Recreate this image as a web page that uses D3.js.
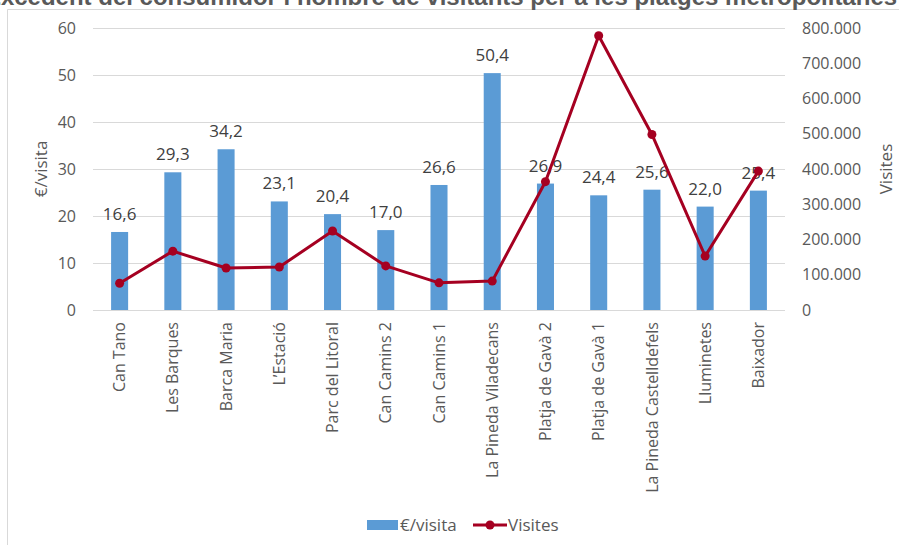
<!DOCTYPE html>
<html lang="ca">
<head>
    <meta charset="UTF-8">
    <title>Excedent del consumidor i nombre de visitants</title>
    <script src="https://cdnjs.cloudflare.com/ajax/libs/d3/7.8.5/d3.min.js"></script>
    <style>
        body { margin: 0; background: #fff; }
        svg { display: block; font-family: 'Open Sans', 'Liberation Sans', sans-serif; }
        svg .tick text { fill: #595959; font-size: 16px; font-family: 'Open Sans', sans-serif; }
        .label { fill: #404040; font-size: 17px; }
        .axis-title { fill: #595959; font-size: 17px; }
    </style>
</head>
<body>
    <div id="chart"></div>

    <script>
        // Data
        const categories = ["Can Tano", "Les Barques", "Barca Maria", "L\u2019Estació", "Parc del Litoral",
            "Can Camins 2", "Can Camins 1", "La Pineda Viladecans", "Platja de Gavà 2", "Platja de Gavà 1",
            "La Pineda Castelldefels", "Lluminetes", "Baixador"];
        const euroPerVisit = [16.6, 29.3, 34.2, 23.1, 20.4, 17.0, 26.6, 50.4, 26.9, 24.4, 25.6, 22.0, 25.4];
        const visits = [76000, 167000, 119000, 122000, 224000, 125000, 77000, 82000, 364000, 778000, 498000, 153000, 394000];
        const leftTicks = [0, 10, 20, 30, 40, 50, 60];
        const rightTicks = [0, 100000, 200000, 300000, 400000, 500000, 600000, 700000, 800000];

        const W = 899, H = 545;
        const plot = { left: 93, right: 785, top: 28, bottom: 310 };
        const barColor = "#5B9BD5";
        const lineColor = "#A50021";

        const svg = d3.select("#chart").append("svg")
            .attr("width", W)
            .attr("height", H);

        // chart frame (left and top edges visible)
        svg.append("path")
            .attr("d", `M7.5,${H} V9.5 H${W}`)
            .attr("fill", "none")
            .attr("stroke", "#D9D9D9")
            .attr("stroke-width", 1);

        // Title (clipped at top in original)
        svg.append("text")
            .attr("x", 441)
            .attr("y", 5)
            .attr("text-anchor", "middle")
            .style("font-family", "'Liberation Sans', Arial, sans-serif")
            .style("font-weight", "bold")
            .style("font-size", "24px")
            .attr("fill", "#595959")
            .text("Excedent del consumidor i nombre de visitants per a les platges metropolitanes");

        const x = d3.scaleBand()
            .domain(categories)
            .range([plot.left, plot.right])
            .paddingInner(0.68)
            .paddingOuter(0.34);

        const yL = d3.scaleLinear().domain([0, 60]).range([plot.bottom, plot.top]);
        const yR = d3.scaleLinear().domain([0, 800000]).range([plot.bottom, plot.top]);

        // gridlines
        svg.append("g")
            .selectAll("line")
            .data(leftTicks)
            .join("line")
            .attr("x1", plot.left)
            .attr("x2", plot.right)
            .attr("y1", d => Math.round(yL(d)) + 0.5)
            .attr("y2", d => Math.round(yL(d)) + 0.5)
            .attr("stroke", "#D9D9D9")
            .attr("stroke-width", 1);

        // left axis
        const axL = svg.append("g")
            .attr("transform", `translate(${plot.left},0)`)
            .call(d3.axisLeft(yL).tickValues(leftTicks).tickSize(0).tickPadding(17));
        axL.select(".domain").remove();

        // right axis
        const fmtES = d3.formatLocale({ decimal: ",", thousands: ".", grouping: [3], currency: ["", "€"] });
        const axR = svg.append("g")
            .attr("transform", `translate(${plot.right},0)`)
            .call(d3.axisRight(yR).tickValues(rightTicks).tickSize(0).tickPadding(17).tickFormat(fmtES.format(",d")));
        axR.select(".domain").remove();

        // bottom axis
        const axB = svg.append("g")
            .attr("transform", `translate(0,${plot.bottom})`)
            .call(d3.axisBottom(x).tickSize(0));
        axB.select(".domain").remove();
        axB.selectAll("text")
            .attr("transform", "rotate(-90)")
            .attr("x", -12)
            .attr("y", 0)
            .attr("dy", "0.35em")
            .style("text-anchor", "end");

        svg.append("line")
            .attr("x1", plot.left)
            .attr("x2", plot.right)
            .attr("y1", plot.bottom + 0.5)
            .attr("y2", plot.bottom + 0.5)
            .attr("stroke", "#D9D9D9");

        // axis titles
        svg.append("text")
            .attr("class", "axis-title")
            .attr("transform", `translate(47,${(plot.top + plot.bottom) / 2}) rotate(-90)`)
            .attr("text-anchor", "middle")
            .text("€/visita");

        svg.append("text")
            .attr("class", "axis-title")
            .attr("transform", `translate(892,${(plot.top + plot.bottom) / 2}) rotate(-90)`)
            .attr("text-anchor", "middle")
            .text("Visites");

        // bars
        svg.append("g")
            .selectAll("rect")
            .data(euroPerVisit)
            .join("rect")
            .attr("x", (d, i) => x(categories[i]))
            .attr("y", d => yL(d))
            .attr("width", x.bandwidth())
            .attr("height", d => plot.bottom - yL(d))
            .attr("fill", barColor);

        // bar labels
        const fmtDec = fmtES.format(".1f");
        svg.append("g")
            .selectAll("text")
            .data(euroPerVisit)
            .join("text")
            .attr("class", "label")
            .attr("x", (d, i) => x(categories[i]) + x.bandwidth() / 2)
            .attr("y", d => yL(d) - 12)
            .attr("text-anchor", "middle")
            .text(d => fmtDec(d));

        // line
        const cx = i => x(categories[i]) + x.bandwidth() / 2;
        const line = d3.line()
            .x((d, i) => cx(i))
            .y(d => yR(d));

        svg.append("path")
            .datum(visits)
            .attr("d", line)
            .attr("fill", "none")
            .attr("stroke", lineColor)
            .attr("stroke-width", 3)
            .attr("stroke-linejoin", "round");

        svg.append("g")
            .selectAll("circle")
            .data(visits)
            .join("circle")
            .attr("cx", (d, i) => cx(i))
            .attr("cy", d => yR(d))
            .attr("r", 4.5)
            .attr("fill", lineColor);

        // legend
        const lg = svg.append("g").attr("transform", "translate(0,525)");
        lg.append("rect")
            .attr("x", 367).attr("y", -5)
            .attr("width", 31).attr("height", 10)
            .attr("fill", barColor);
        lg.append("text")
            .attr("x", 400).attr("y", 0).attr("dy", "0.35em")
            .attr("class", "axis-title")
            .text("€/visita");
        lg.append("line")
            .attr("x1", 473).attr("x2", 507)
            .attr("y1", 0).attr("y2", 0)
            .attr("stroke", lineColor).attr("stroke-width", 3);
        lg.append("circle")
            .attr("cx", 490).attr("cy", 0).attr("r", 4.5)
            .attr("fill", lineColor);
        lg.append("text")
            .attr("x", 508).attr("y", 0).attr("dy", "0.35em")
            .attr("class", "axis-title")
            .text("Visites");
    </script>
</body>
</html>
